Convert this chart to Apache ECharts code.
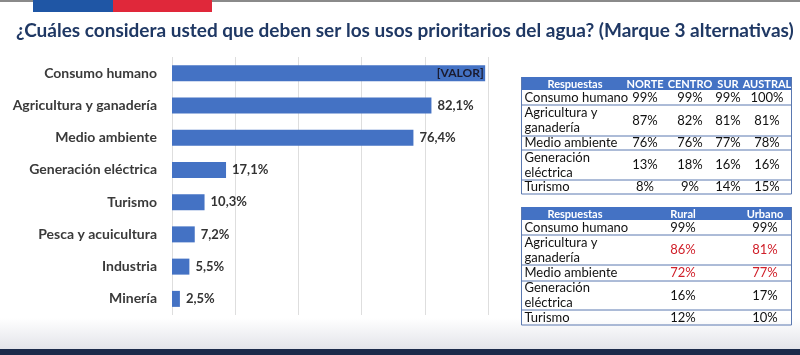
<!DOCTYPE html>
<html>
<head>
<meta charset="utf-8">
<script src="https://cdn.jsdelivr.net/npm/echarts@6/dist/echarts.min.js"></script>
<style>
html,body{margin:0;padding:0;background:#fff;}
#main{width:800px;height:355px;}
</style>
</head>
<body>
<div id="main"></div>
<script>
// ---- Data ----
const titleText = '¿Cuáles considera usted que deben ser los usos prioritarios del agua? (Marque 3 alternativas)';
const categories = ['Consumo humano','Agricultura y ganadería','Medio ambiente','Generación eléctrica','Turismo','Pesca y acuicultura','Industria','Minería'];
const values = [99.1, 82.1, 76.4, 17.1, 10.3, 7.2, 5.5, 2.5];
const firstLabel = '[VALOR]';

const regionHeaders = ['Respuestas','NORTE','CENTRO','SUR','AUSTRAL'];
const regionRows = ['Consumo humano','Agricultura y\nganadería','Medio ambiente','Generación\neléctrica','Turismo'];
const norte   = ['99%','87%','76%','13%','8%'];
const centro  = ['99%','82%','76%','18%','9%'];
const sur     = ['99%','81%','77%','16%','14%'];
const austral = ['100%','81%','78%','16%','15%'];

const zoneHeaders = ['Respuestas','Rural','Urbano'];
const zoneRows = ['Consumo humano','Agricultura y\nganadería','Medio ambiente','Generación\neléctrica','Turismo'];
const rural  = ['99%','86%','72%','16%','12%'];
const urbano = ['99%','81%','77%','17%','10%'];
const zoneHighlight = [false,true,true,false,false];

// ---- Helpers ----
const FONT = 'Lato, "Open Sans", sans-serif';
const blue = '#4472c4';
const lineCol = '#5a78b0';

function buildTable(x0, x1, yHeader, headerH, rowHeights, headers, colCenters, rows, cols, highlight){
  const els = [];
  els.push({type:'rect', shape:{x:x0, y:yHeader, width:x1-x0, height:headerH}, style:{fill:blue}});
  headers.forEach((h,i)=>{
    els.push({type:'text', x: colCenters[i], y: yHeader+headerH/2+0.5,
      style:{text:h, fill:'#fff', font:'bold 11px '+FONT, textAlign:'center', textVerticalAlign:'middle'}});
  });
  let y = yHeader+headerH;
  rows.forEach((r,ri)=>{
    const h = rowHeights[ri];
    els.push({type:'text', x: x0+3, y: y+h/2,
      style:{text:r, fill:'#111', font:'13px '+FONT, textAlign:'left', textVerticalAlign:'middle', lineHeight:15}});
    cols.forEach((c,ci)=>{
      const red = highlight && highlight[ri];
      els.push({type:'text', x: colCenters[ci+1], y: y+h/2,
        style:{text:c[ri], fill: red ? '#d0202a' : '#111', font:'13px '+FONT, textAlign:'center', textVerticalAlign:'middle'}});
    });
    y += h;
    els.push({type:'line', shape:{x1:x0, y1:y, x2:x1, y2:y}, style:{stroke:lineCol, lineWidth:1}});
  });
  els.push({type:'line', shape:{x1:x0, y1:yHeader, x2:x0, y2:y}, style:{stroke:lineCol, lineWidth:1}});
  els.push({type:'line', shape:{x1:x1, y1:yHeader, x2:x1, y2:y}, style:{stroke:lineCol, lineWidth:1}});
  return els;
}

const table1 = buildTable(521.5, 791.5, 77, 13, [15,31,14,30,14],
  regionHeaders, [575, 645, 690, 728, 767], regionRows, [norte, centro, sur, austral], null);
const table2 = buildTable(521.5, 791.5, 207, 13, [15,30,16,29,15],
  zoneHeaders, [575, 683, 765], zoneRows, [rural, urbano], zoneHighlight);

const chart = echarts.init(document.getElementById('main'), null, {renderer:'canvas'});
chart.setOption({
  backgroundColor:'#ffffff',
  animation:false,
  title:{
    text:titleText, left:11, top:16,
    textStyle:{fontFamily:FONT, fontWeight:'bold', fontSize:19, color:'#1f3864'}
  },
  grid:{left:172, right:312, top:57, bottom:40, containLabel:false},
  xAxis:{
    type:'value', min:0, max:100, interval:20,
    axisLabel:{show:false}, axisLine:{show:false}, axisTick:{show:false},
    splitLine:{show:true, lineStyle:{color:'#dedede', width:1}}
  },
  yAxis:{
    type:'category', inverse:true, data:categories,
    axisLine:{show:false}, axisTick:{show:false},
    axisLabel:{fontFamily:FONT, fontWeight:'bold', fontSize:14, color:'#3a3a3a', margin:15}
  },
  series:[{
    type:'bar', data:values, barWidth:16,
    itemStyle:{color:blue},
    label:{
      show:true, position:'right', distance:6,
      fontFamily:FONT, fontWeight:'bold', fontSize:13, color:'#333',
      formatter:(p)=> p.dataIndex===0 ? '' : p.value.toFixed(1).replace('.',',')+'%'
    },
    markPoint:{
      symbol:'rect', symbolSize:1, silent:true,
      itemStyle:{color:'rgba(0,0,0,0)'},
      label:{show:true, position:'left', distance:1, formatter:firstLabel,
        fontFamily:FONT, fontWeight:'bold', fontSize:12, color:'#1a1a2e'},
      data:[{coord:[values[0], categories[0]]}]
    }
  }],
  graphic:[
    {type:'rect', shape:{x:0,y:0,width:800,height:2}, style:{fill:'#8a8a8a'}, z:10},
    {type:'rect', shape:{x:33,y:0,width:80,height:12}, style:{fill:'#1f56a5'}, z:11},
    {type:'rect', shape:{x:113,y:0,width:99,height:12}, style:{fill:'#e0283a'}, z:11},
    {type:'rect', shape:{x:0,y:318,width:800,height:32},
      style:{fill:new echarts.graphic.LinearGradient(0,0,0,1,[{offset:0,color:'#ffffff'},{offset:1,color:'#e2e3e9'}])}, z:-1},
    {type:'rect', shape:{x:0,y:349,width:800,height:6}, style:{fill:'#1b2a4a'}, z:10},
    {type:'group', children: table1, z:20},
    {type:'group', children: table2, z:20}
  ]
});
</script>
</body>
</html>
